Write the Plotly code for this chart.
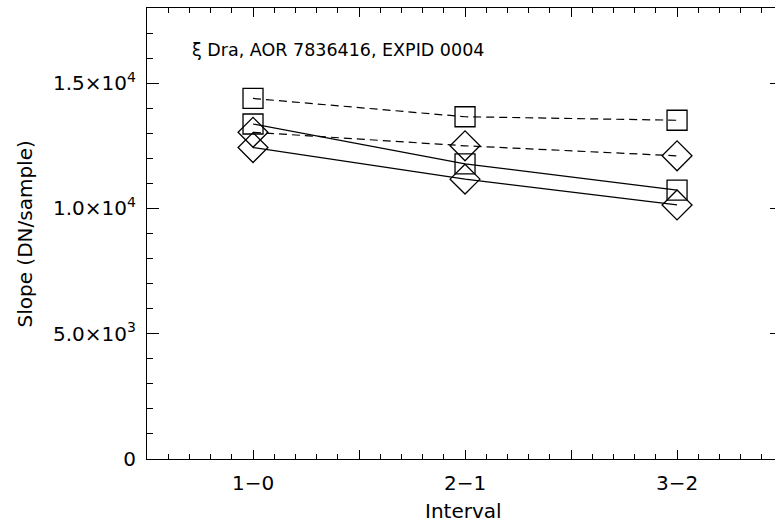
import plotly.graph_objects as go

# ---- data ----
intervals = [1, 2, 3]
interval_labels = ["1\u22120", "2\u22121", "3\u22122"]
sq_dashed = [14390, 13660, 13520]
dia_dashed = [13040, 12500, 12100]
sq_solid = [13370, 11780, 10730]
dia_solid = [12430, 11170, 10140]

y_tickvals = [0, 5000, 10000, 15000]
y_ticktext = ["0", "5.0\u00d710<sup>3</sup>", "1.0\u00d710<sup>4</sup>", "1.5\u00d710<sup>4</sup>"]
half_ticks = [0.5, 1.5, 2.5]
title_text = "\u03be Dra, AOR 7836416, EXPID 0004"

FONT = "DejaVu Sans"
XR = [0.5, 3.462]
fig = go.Figure()

series = [
    (sq_dashed, "square-open", 20, "8px,5px"),
    (dia_dashed, "diamond-open", 23, "8px,5px"),
    (sq_solid, "square-open", 20, "solid"),
    (dia_solid, "diamond-open", 23, "solid"),
]
for vals, sym, size, dash in series:
    fig.add_trace(go.Scatter(
        x=intervals, y=vals, mode="lines+markers",
        line=dict(color="black", width=1.2, dash=dash),
        marker=dict(symbol=sym, size=size, color="black", line=dict(width=1.3, color="black")),
        showlegend=False, hoverinfo="skip",
    ))

# invisible traces to hold the helper axes
fig.add_trace(go.Scatter(x=[1], y=[0], yaxis="y2", mode="markers",
                         marker=dict(opacity=0), showlegend=False, hoverinfo="skip"))
fig.add_trace(go.Scatter(x=[1], y=[0], xaxis="x2", mode="markers",
                         marker=dict(opacity=0), showlegend=False, hoverinfo="skip"))
fig.add_trace(go.Scatter(x=[1], y=[0], xaxis="x3", mode="markers",
                         marker=dict(opacity=0), showlegend=False, hoverinfo="skip"))

helper_x = dict(range=XR, tickvals=half_ticks, showticklabels=False,
                ticks="inside", ticklen=9, tickwidth=1, tickcolor="black",
                showline=False, showgrid=False, zeroline=False, overlaying="x")

fig.update_layout(
    width=775, height=525,
    margin=dict(l=147, r=0, t=8, b=66),
    paper_bgcolor="white", plot_bgcolor="white",
    font=dict(family=FONT, color="black", size=20),
    xaxis=dict(
        range=XR,
        tickvals=intervals, ticktext=interval_labels,
        ticks="inside", ticklen=9, tickwidth=1, tickcolor="black",
        minor=dict(dtick=0.1, tick0=0.5, ticks="inside", ticklen=5, tickwidth=1, tickcolor="black"),
        showline=True, linecolor="black", linewidth=1.2, mirror="ticks",
        showgrid=False, zeroline=False,
        tickfont=dict(size=20, family=FONT),
        ticklabelstandoff=6,
    ),
    xaxis2=dict(helper_x, side="bottom", anchor="y"),
    xaxis3=dict(helper_x, side="top", anchor="y"),
    yaxis=dict(
        range=[0, 18000],
        tickvals=y_tickvals, ticktext=y_ticktext,
        ticks="inside", ticklen=12, tickwidth=1, tickcolor="black",
        minor=dict(dtick=1000, tick0=0, ticks="inside", ticklen=6, tickwidth=1, tickcolor="black"),
        showline=True, linecolor="black", linewidth=1.2, mirror=False,
        showgrid=False, zeroline=False,
        tickfont=dict(size=20, family=FONT),
        ticklabelstandoff=6,
    ),
    yaxis2=dict(
        range=[0, 18000], overlaying="y", side="right",
        tickvals=y_tickvals, showticklabels=False,
        ticks="inside", ticklen=5, tickwidth=1, tickcolor="black",
        showline=False, showgrid=False, zeroline=False,
    ),
    annotations=[
        dict(text=title_text, xref="paper", yref="paper", x=(190 - 147) / 628, y=(459 - 50) / 451,
             xanchor="left", yanchor="middle", showarrow=False, font=dict(size=17.5, family=FONT)),
        dict(text="Interval", xref="paper", yref="paper", x=(463 - 147) / 628, y=-(511 - 459) / 451,
             xanchor="center", yanchor="middle", showarrow=False, font=dict(size=20, family=FONT)),
        dict(text="Slope (DN/sample)", xref="paper", yref="paper", x=-(147 - 24) / 628, y=0.5,
             xanchor="center", yanchor="middle", textangle=-90, showarrow=False,
             font=dict(size=20, family=FONT)),
    ],
)

fig.write_html("out.html")
